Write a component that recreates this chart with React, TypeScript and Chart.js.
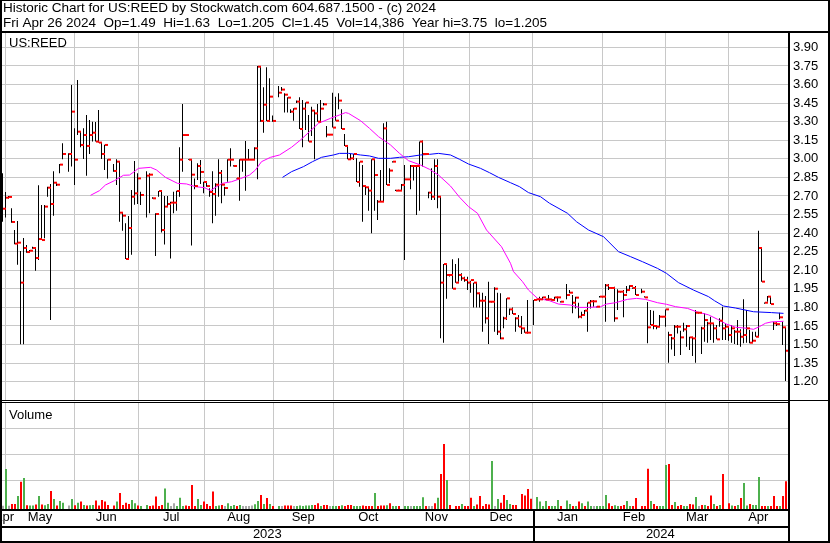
import React, { useEffect, useRef } from 'react';
import { Chart, registerables } from 'chart.js';

Chart.register(...registerables);

// ---------- texts ----------
const HEADER_TITLE = 'Historic Chart for US:REED by Stockwatch.com 604.687.1500 - (c) 2024';
const HEADER_QUOTE = 'Fri Apr 26 2024  Op=1.49  Hi=1.63  Lo=1.205  Cl=1.45  Vol=14,386  Year hi=3.75  lo=1.205';
const SYMBOL = 'US:REED';
const VOLUME_TITLE = 'Volume';

// ---------- time axis (trading-day units) ----------
const DAY_COUNT = 262;
const MONTH_LABELS = ['Apr', 'May', 'Jun', 'Jul', 'Aug', 'Sep', 'Oct', 'Nov', 'Dec', 'Jan', 'Feb', 'Mar', 'Apr'];
const MONTH_STARTS = [1.23, 24.1, 45.4, 67.4, 90.4, 110.4, 133.8, 155.8, 176.9, 200.1, 221.2, 242.2];
const YEAR_LABELS = ['2023', '2024'];
const YEAR_START_MONTH = 8; // index in MONTH_STARTS where 2024 begins

// ---------- value axes ----------
const PRICE_TICKS = [1.2, 1.35, 1.5, 1.65, 1.8, 1.95, 2.1, 2.25, 2.4, 2.55, 2.7, 2.85, 3.0, 3.15, 3.3, 3.45, 3.6, 3.75, 3.9];
const VOLUME_TICKS = [15, 30, 45];

// ---------- daily data ----------
const HIGH = [
  2.883, 2.732, 2.70, 2.600, 2.425, 2.498, 2.255, 2.360, 2.304, 2.264,
  2.290, 2.282, 2.786, 2.627, 2.627, 2.775, 2.797, 2.899, 2.802, 2.958,
  3.125, null, 3.044, 3.596, 3.246, 3.637, 3.219, 3.246, 3.354, 3.314,
  3.300, 3.297, 3.394, 3.136, 3.114, 2.996, null, 2.958, 2.996, 2.977,
  2.565, 2.479, 2.538, 2.748, 2.982, 2.883, 2.735, null, 2.899, 2.883,
  2.689, 2.560, 2.740, 2.748, 2.700, 2.700, 2.654, 2.735, 2.743, 3.093,
  3.443, 3.192, 2.996, 2.996, 2.842, 2.964, 2.991, 2.815, 2.807, 2.762,
  2.899, 2.802, 2.996, 2.910, 2.775, 2.996, 3.085, 2.947, 2.842, 2.996,
  2.996, 3.144, 3.079, 2.996, 3.093, 3.750, 3.750, 3.578, 3.739, 3.650,
  3.350, null, 3.588, 3.580, 3.529, 3.497, 3.400, 3.408, 3.470, 3.497,
  3.475, 3.454, 3.354, 3.421, 3.394, 3.443, 3.475, 3.450, 3.265, 3.200,
  3.534, 3.502, 3.529, 3.400, 3.200, 3.104, 3.039, 3.039, 3.004, 2.977,
  2.950, 2.780, 2.770, 2.996, 2.996, 2.667, 2.910, 3.287, 3.300, 2.923,
  2.980, 2.750, 2.750, 2.797, 2.950, 2.834, 2.950, 2.950, 2.950, 3.139,
  3.147, 3.040, 2.735, 2.923, 2.996, 2.996, 2.694, 2.150, 2.150, 2.070,
  2.188, 2.150, 2.196, 2.075, 2.048, 2.048, 2.016, 2.000, 2.000, 1.919,
  1.919, 1.892, 2.008, 1.850, 1.962, 1.919, 1.914, 1.725, 1.873, 1.792,
  1.800, 1.720, 1.739, 1.730, 1.623, 1.860, null, 1.860, 1.870, 1.887,
  1.887, 1.870, 1.900, 1.865, 1.887, 1.887, 1.850, null, 1.989, 1.940,
  1.900, 1.887, 1.838, 1.765, 1.779, 1.840, 1.860, 1.860, 1.810, 1.892,
  1.890, 1.989, 1.989, 1.960, 1.967, 1.946, 1.930, 1.940, 1.973, 1.978,
  1.960, 1.973, null, 1.951, 1.890, 1.844, 1.779, 1.774, 1.658, 1.739,
  1.730, 1.784, 1.604, 1.563, 1.658, 1.658, 1.612, 1.677, 1.658, 1.563,
  1.563, 1.779, 1.760, 1.644, 1.752, 1.685, 1.725, 1.671, 1.658, 1.712,
  1.806, 1.671, 1.644, 1.658, 1.617, 1.698, 1.623, 1.865, 1.779, 1.617,
  1.604, 1.604, 2.420, 2.280, 1.840, 1.892, 1.887, 1.685, 1.680, 1.757,
  1.685, 1.639,
];

const LOW = [
  2.492, 2.527, 2.680, 2.484, 2.310, 2.145, 1.502, 1.502, 2.242, 2.250,
  2.274, 2.097, 2.183, 2.344, 2.358, 2.694, 1.698, 2.541, 2.780, 2.883,
  2.996, null, 2.896, 2.937, 2.789, 3.192, 3.093, 2.999, 2.864, 3.039,
  3.139, 3.139, 3.131, 2.999, 2.910, 2.840, null, 2.896, 2.789, 2.492,
  2.420, 2.191, 2.183, 2.226, 2.630, 2.635, 2.627, null, 2.527, 2.560,
  2.678, 2.215, 2.694, 2.404, 2.309, 2.614, 2.194, 2.560, 2.581, 2.694,
  2.896, 3.184, 2.991, 2.299, 2.754, 2.829, 2.797, 2.721, 2.775, 2.694,
  2.479, 2.541, 2.694, 2.641, 2.702, 2.815, 2.937, 2.937, 2.835, 2.662,
  2.896, 2.743, 2.993, 2.991, 2.996, 2.834, 3.300, 3.211, 3.306, 3.300,
  3.300, null, 3.497, 3.550, 3.373, 3.373, 3.370, 3.308, 3.450, 3.241,
  3.093, 3.233, 3.139, 3.184, 2.996, 3.300, 3.300, 3.430, 3.174, 3.190,
  3.252, 3.308, 3.400, 3.241, 3.104, 2.996, 2.996, 2.991, 2.813, 2.775,
  2.492, 2.708, 2.581, 2.398, 2.581, 2.506, 2.654, 2.654, 2.789, 2.802,
  2.970, 2.740, 2.740, 2.748, 2.183, 2.829, 2.754, 2.824, 2.546, 2.581,
  2.937, 3.030, 2.681, 2.667, 2.667, 2.600, 1.550, 1.515, 1.870, 2.050,
  1.951, 2.000, 2.008, 2.016, 2.008, 1.940, 1.919, 1.800, 1.800, 1.800,
  1.604, 1.671, 1.504, 1.840, 1.604, 1.577, 1.542, 1.631, 1.698, 1.739,
  1.747, 1.604, 1.644, 1.585, 1.596, 1.590, null, 1.658, 1.860, 1.846,
  1.860, 1.860, 1.865, 1.855, 1.865, 1.846, 1.840, null, 1.865, 1.914,
  1.752, 1.792, 1.712, 1.712, 1.739, 1.604, 1.792, 1.806, 1.800, 1.881,
  1.880, 1.685, 1.940, 1.950, 1.685, 1.779, 1.920, 1.720, 1.914, 1.940,
  1.950, 1.900, null, 1.914, 1.880, 1.510, 1.658, 1.623, 1.623, 1.644,
  1.720, 1.644, 1.353, 1.461, 1.407, 1.590, 1.415, 1.604, 1.483, 1.456,
  1.407, 1.353, 1.750, 1.423, 1.523, 1.515, 1.537, 1.515, 1.542, 1.644,
  1.537, 1.537, 1.531, 1.515, 1.504, 1.496, 1.483, 1.510, 1.515, 1.510,
  1.515, 1.563, 1.563, 2.008, 1.830, 1.846, 1.827, 1.617, 1.650, 1.704,
  1.496, 1.205,
];

const CLOSE = [
  2.597, 2.686, 2.692, 2.490, 2.315, 2.323, 2.000, 2.280, 2.247, 2.258,
  2.280, 2.199, 2.352, 2.344, 2.614, 2.767, 2.635, 2.807, 2.791, 2.953,
  3.039, null, 3.039, 3.381, 2.993, 3.219, 3.112, 3.192, 3.104, 3.192,
  3.211, 3.139, 3.131, 3.039, 3.112, 2.993, null, 2.902, 2.977, 2.565,
  2.541, 2.191, 2.441, 2.694, 2.721, 2.842, 2.708, null, 2.864, 2.872,
  2.681, 2.554, 2.740, 2.425, 2.614, 2.635, 2.646, 2.646, 2.740, 2.993,
  3.192, 3.192, 2.993, 2.872, 2.780, 2.942, 2.894, 2.813, 2.780, 2.732,
  2.716, 2.791, 2.886, 2.791, 2.764, 2.993, 2.993, 2.942, 2.842, 2.993,
  2.993, 2.993, 2.993, 2.993, 3.085, 3.744, 3.306, 3.437, 3.306, 3.502,
  3.306, null, 3.534, 3.559, 3.518, 3.494, 3.381, 3.405, 3.462, 3.241,
  3.405, 3.454, 3.139, 3.389, 3.367, 3.300, 3.405, 3.440, 3.195, 3.195,
  3.252, 3.308, 3.470, 3.241, 3.104, 2.996, 3.004, 3.039, 2.813, 2.977,
  2.780, 2.770, 2.743, 2.996, 2.869, 2.654, 2.654, 3.246, 2.789, 2.905,
  2.977, 2.743, 2.743, 2.789, 2.834, 2.834, 2.942, 2.942, 2.942, 3.139,
  3.039, 3.039, 2.727, 2.694, 2.942, 2.694, 2.000, 2.150, 2.062, 2.062,
  1.951, 2.000, 2.062, 2.035, 2.021, 2.000, 2.021, 2.000, 1.914, 1.854,
  1.854, 1.712, 1.846, 1.846, 1.951, 1.604, 1.550, 1.712, 1.873, 1.784,
  1.747, 1.712, 1.644, 1.631, 1.596, 1.596, null, 1.860, 1.865, 1.865,
  1.881, 1.865, 1.865, 1.860, 1.881, 1.881, 1.846, null, 1.900, 1.919,
  1.838, 1.879, 1.725, 1.739, 1.774, 1.838, 1.849, 1.849, 1.806, 1.887,
  1.887, 1.978, 1.957, 1.957, 1.712, 1.927, 1.927, 1.900, 1.940, 1.973,
  1.957, 1.900, null, 1.927, 1.881, 1.639, 1.658, 1.650, 1.644, 1.725,
  1.725, 1.784, 1.577, 1.550, 1.644, 1.644, 1.558, 1.623, 1.650, 1.558,
  1.550, 1.757, 1.757, 1.631, 1.698, 1.671, 1.671, 1.631, 1.542, 1.693,
  1.631, 1.644, 1.577, 1.631, 1.604, 1.604, 1.563, 1.577, 1.631, 1.515,
  1.531, 1.563, 2.280, 2.008, 1.838, 1.887, 1.827, 1.671, 1.665, 1.720,
  1.639, 1.450,
];

// volume in thousands of shares
const VOLUME_K = [
  0.3, 21.5, 0.3, 1.3, 1.3, 6.0, 14.2, 16.3, 0.6, 0.4,
  0.4, 1.0, 6.0, 1.0, 0.6, 1.3, 8.8, 4.2, 0.4, 3.0,
  2.1, null, 0.5, 4.2, 0.6, 2.1, 2.7, 0.8, 0.4, 0.6,
  0.8, 3.3, 0.4, 3.7, 2.7, 0.8, null, 0.4, 2.7, 7.7,
  0.8, 2.1, 1.3, 3.7, 1.7, 0.4, 0.2, null, 0.8, 0.2,
  0.4, 5.6, 0.2, 0.8, 10.2, 2.1, 0.2, 1.7, 0.2, 5.0,
  0.2, 0.4, 0.2, 12.3, 0.2, 4.2, 0.8, 2.7, 1.3, 0.2,
  8.5, 0.2, 0.4, 0.8, 0.2, 1.7, 0.2, 0.8, 0.2, 0.8,
  0.2, 0.2, 0.2, 0.4, 1.2, 3.0, 6.5, 1.3, 4.8, 1.3,
  0.2, null, 0.2, 0.1, 0.4, 0.4, 0.4, 0.1, 0.1, 0.4,
  0.2, 0.4, 0.4, 0.8, 0.8, 1.7, 0.1, 0.8, 0.8, 0.1,
  0.2, 0.2, 0.2, 0.6, 0.2, 0.8, 0.8, 0.2, 0.2, 0.2,
  0.4, 0.2, 0.1, 0.1, 7.7, 0.2, 0.4, 0.4, 0.6, 1.7,
  0.1, 0.1, 0.2, null, 0.1, 0.2, 0.1, 0.2, 0.2, 0.2,
  5.2, 0.2, 0.1, 0.1, 1.7, 5.0, 18.7, 36.0, 15.2, 0.8,
  null, 0.2, 0.2, 1.3, 0.1, 0.1, 5.0, 0.2, 1.0, 6.0,
  0.2, 1.3, 1.0, 26.2, 0.1, 4.2, 2.1, 6.5, 3.7, 1.3,
  0.8, 0.8, null, 7.1, 6.2, 10.0, 4.4, null, 5.4, 2.7,
  0.2, 3.0, 0.1, 0.1, 0.1, 3.7, 0.2, null, 3.3, 1.3,
  0.1, 0.1, 2.7, 1.7, 0.1, 2.7, 0.2, 0.2, 0.1, 0.1,
  0.1, 6.5, 1.7, 0.1, 0.6, 0.1, 0.2, 0.8, 3.0, 0.1,
  0.2, 4.8, null, 0.1, 0.1, 21.7, 3.0, 1.3, 0.1, 0.2,
  0.1, 23.8, 24.4, 0.8, 2.5, 0.2, 0.8, 0.1, 0.1, 1.3,
  1.0, 5.4, 0.1, 0.8, 0.8, 0.1, 6.3, 1.3, 0.2, 0.8,
  18.7, null, 1.7, 0.4, 0.2, 0.8, 4.8, 13.5, 0.4, 1.3,
  0.8, 0.8, 16.9, 0.2, 0.2, 0.1, 0.1, 6.0, 0.1, 0.1,
  6.0, 14.4,
];

// u = close up, d = close down, n = unchanged, - = no trading
const VOLUME_DIR = [
  'nunddududu', 'ududuududu', 'u-nudududu', 'uddddd-dud', 'ddduudu-ud',
  'dddduunnuu', 'udddduuddd', 'duudnuuudu', 'nnnnuududu', 'd-undddnuu',
  'uuuudduddn', 'uududdduuu', 'ddddudddud', 'uud-uunuuu', 'udnnduddud',
  '-ddudddudd', 'dddunudduu', 'dd-dddd-uu', 'uuduuud-uu', 'dududuunuu',
  'uudduudduu', 'dd-ddduddu', 'uuddudduud', 'dunduddudu', 'd-dududuud',
  'uuuddudddu', 'dd',
].join('');

// moving averages (day index, value)
const MA_SHORT_DAY = [29, 32, 34, 37, 40, 42, 44, 45, 49, 51, 54, 58, 61, 64, 67, 69, 71, 73, 76, 79, 82, 84, 86, 89, 92, 96, 99, 102, 105, 109, 112, 114, 115, 119, 122, 125, 129, 132, 135, 139, 142, 145, 149, 152, 155, 158, 161, 166, 169, 170, 173, 175, 178, 182, 185, 189, 192, 195, 199, 201, 204, 208, 211, 214, 218, 221, 224, 228, 231, 235, 238, 241, 244, 248, 250, 252, 254, 256, 260];
const MA_SHORT = [2.705, 2.743, 2.789, 2.824, 2.867, 2.869, 2.904, 2.923, 2.931, 2.910, 2.850, 2.802, 2.797, 2.775, 2.767, 2.743, 2.775, 2.802, 2.815, 2.840, 2.869, 2.910, 2.977, 3.012, 3.031, 3.093, 3.152, 3.219, 3.287, 3.327, 3.354, 3.373, 3.367, 3.308, 3.246, 3.179, 3.112, 3.044, 2.985, 2.950, 2.915, 2.869, 2.780, 2.690, 2.614, 2.560, 2.425, 2.290, 2.156, 2.089, 2.008, 1.940, 1.873, 1.854, 1.827, 1.819, 1.800, 1.800, 1.806, 1.827, 1.838, 1.865, 1.873, 1.865, 1.838, 1.825, 1.806, 1.792, 1.765, 1.740, 1.704, 1.665, 1.640, 1.631, 1.623, 1.645, 1.672, 1.683, 1.688];
const MA_LONG_DAY = [93, 96, 100, 103, 106, 110, 112, 115, 119, 122, 125, 129, 132, 135, 139, 142, 145, 149, 152, 155, 159, 162, 165, 169, 172, 175, 179, 182, 188, 191, 195, 200, 205, 209, 213, 218, 221, 225, 230, 235, 237, 240, 244, 250, 256, 260];
const MA_LONG = [2.850, 2.896, 2.937, 2.977, 3.012, 3.031, 3.044, 3.044, 3.031, 3.023, 3.004, 3.004, 3.012, 3.017, 3.031, 3.036, 3.044, 3.031, 2.996, 2.958, 2.923, 2.888, 2.850, 2.807, 2.775, 2.727, 2.694, 2.641, 2.560, 2.492, 2.425, 2.371, 2.250, 2.210, 2.169, 2.115, 2.075, 2.000, 1.940, 1.887, 1.854, 1.811, 1.795, 1.765, 1.758, 1.752];

// ---------- styling / layout ----------
const W = 830;
const H = 543;
const FONT = 'Liberation Sans';
const GRID = '#C8C8C8';
const UP = '#4DB04D';
const DOWN = '#FF0000';
const FLAT = '#A8A8A8';
const PRICE_MIN = 0.172;
const PRICE_MAX = 4.016;
const VOL_MIN = -1.56;
const VOL_MAX = 273.1;
const TICK_HALF = 0.008; // half height of the close tick, in price units (about 1px)

const segEdges = [0, ...MONTH_STARTS, DAY_COUNT];
const MONTH_CENTERS = MONTH_LABELS.map((_, k) => (segEdges[k] + segEdges[k + 1]) / 2);
const yearEdges = [0, MONTH_STARTS[YEAR_START_MONTH], DAY_COUNT];
const YEAR_CENTERS = YEAR_LABELS.map((_, k) => (yearEdges[k] + yearEdges[k + 1]) / 2);

const fixX = (h: number) => (s: any) => {
  s.height = h;
  s.paddingLeft = 0;
  s.paddingRight = 0;
};
const fixY = (w: number) => (s: any) => {
  s.width = w;
  s.paddingTop = 0;
  s.paddingBottom = 0;
};

const decor = {
  id: 'decor',
  afterDraw(chart: any) {
    const { ctx } = chart;
    const xs = chart.scales.x;
    ctx.save();
    // separator between price and volume panels
    ctx.fillStyle = '#fff';
    ctx.fillRect(2, 400, 786, 3);
    ctx.fillStyle = '#000';
    ctx.fillRect(0, 0, W, 1);
    ctx.fillRect(0, 31, W, 2);
    ctx.fillRect(0, 0, 2, H);
    ctx.fillRect(788, 31, 2, H - 31);
    ctx.fillRect(W - 2, 0, 2, H);
    ctx.fillRect(0, 400, W, 1);
    ctx.fillRect(0, 402, 790, 1);
    ctx.fillRect(0, 509, 790, 2);
    ctx.fillRect(0, 526, 790, 2);
    ctx.fillRect(0, H - 2, W, 2);
    const jan = Math.round(xs.getPixelForValue(MONTH_STARTS[YEAR_START_MONTH]));
    ctx.fillRect(jan, 511, 2, 30);
    // texts
    ctx.textAlign = 'left';
    ctx.textBaseline = 'alphabetic';
    ctx.font = `13.5px "${FONT}"`;
    ctx.fillText(HEADER_TITLE, 3, 12);
    ctx.fillText(HEADER_QUOTE, 3, 26.5);
    ctx.font = `13px "${FONT}"`;
    ctx.fillText(SYMBOL, 9, 46.5);
    ctx.fillText(VOLUME_TITLE, 9, 418.5);
    ctx.restore();
  },
};

function buildConfig(): any {
  const rangeData: any[] = [];
  const closeData: any[] = [];
  const volData: any[] = [];
  for (let i = 0; i < DAY_COUNT; i++) {
    if (HIGH[i] != null && LOW[i] != null) rangeData.push({ x: i + 1 / 6, y: [LOW[i], HIGH[i]] });
    if (CLOSE[i] != null) closeData.push({ x: i + 5 / 6, y: [CLOSE[i] - TICK_HALF, CLOSE[i] + TICK_HALF] });
    if (VOLUME_K[i] != null) volData.push({ x: i + 1 / 3, y: VOLUME_K[i], dir: VOLUME_DIR[i] });
  }
  const maShort = MA_SHORT_DAY.map((d, k) => ({ x: d + 0.5, y: MA_SHORT[k] }));
  const maLong = MA_LONG_DAY.map((d, k) => ({ x: d + 0.5, y: MA_LONG[k] }));

  const xBase = {
    type: 'linear',
    min: 0,
    max: DAY_COUNT,
    position: 'bottom',
    offset: false,
    border: { display: false },
  };

  return {
    type: 'bar',
    data: {
      datasets: [
        {
          type: 'bar',
          data: closeData,
          yAxisID: 'y',
          backgroundColor: '#FF0000',
          barThickness: 3,
          inflateAmount: 0,
          borderWidth: 0,
          grouped: false,
        },
        {
          type: 'line',
          data: maShort,
          yAxisID: 'y',
          borderColor: '#FF00FF',
          borderWidth: 1,
          pointRadius: 0,
          tension: 0,
        },
        {
          type: 'line',
          data: maLong,
          yAxisID: 'y',
          borderColor: '#0000FF',
          borderWidth: 1,
          pointRadius: 0,
          tension: 0,
        },
        {
          type: 'bar',
          data: rangeData,
          yAxisID: 'y',
          backgroundColor: '#000000',
          barThickness: 1,
          inflateAmount: 0,
          borderWidth: 0,
          grouped: false,
        },
        {
          type: 'bar',
          data: volData,
          yAxisID: 'yv',
          base: VOL_MIN,
          barThickness: 2,
          inflateAmount: 0,
          borderWidth: 0,
          grouped: false,
          backgroundColor: (c: any) => {
            const d = c.raw && c.raw.dir;
            return d === 'u' ? UP : d === 'd' ? DOWN : FLAT;
          },
        },
      ],
    },
    options: {
      responsive: false,
      animation: false,
      devicePixelRatio: 1,
      events: [],
      layout: { autoPadding: false, padding: { left: 2, top: 33, right: 0, bottom: 0 } },
      plugins: { legend: { display: false }, tooltip: { enabled: false }, title: { display: false } },
      scales: {
        x: {
          ...xBase,
          weight: 0,
          grid: { color: GRID, lineWidth: 1, drawTicks: false, offset: false },
          ticks: { display: false },
          afterBuildTicks: (s: any) => {
            s.ticks = MONTH_STARTS.map((v) => ({ value: v }));
          },
          afterFit: fixX(0),
        },
        xm: {
          ...xBase,
          weight: 1,
          grid: { display: false, drawTicks: false, offset: false },
          ticks: {
            display: true,
            autoSkip: false,
            maxRotation: 0,
            minRotation: 0,
            padding: 1,
            color: '#000',
            font: { family: FONT, size: 13 },
            callback: (_v: any, idx: number) => MONTH_LABELS[idx],
          },
          afterBuildTicks: (s: any) => {
            s.ticks = MONTH_CENTERS.map((v) => ({ value: v }));
          },
          afterFit: fixX(17),
        },
        xy: {
          ...xBase,
          weight: 2,
          grid: { display: false, drawTicks: false, offset: false },
          ticks: {
            display: true,
            autoSkip: false,
            maxRotation: 0,
            minRotation: 0,
            padding: 1,
            color: '#000',
            font: { family: FONT, size: 13 },
            callback: (_v: any, idx: number) => YEAR_LABELS[idx],
          },
          afterBuildTicks: (s: any) => {
            s.ticks = YEAR_CENTERS.map((v) => ({ value: v }));
          },
          afterFit: fixX(17),
        },
        yv: {
          type: 'linear',
          position: 'right',
          weight: 0,
          min: VOL_MIN,
          max: VOL_MAX,
          border: { display: false },
          grid: { color: GRID, lineWidth: 1, drawTicks: false },
          ticks: {
            padding: 5,
            color: '#000',
            font: { family: FONT, size: 13 },
            callback: (v: number) => `${v} k`,
          },
          afterBuildTicks: (s: any) => {
            s.ticks = VOLUME_TICKS.map((v) => ({ value: v }));
          },
          afterFit: fixY(0),
        },
        y: {
          type: 'linear',
          position: 'right',
          weight: 1,
          min: PRICE_MIN,
          max: PRICE_MAX,
          border: { display: false },
          grid: { color: GRID, lineWidth: 1, drawTicks: false },
          ticks: {
            padding: 5,
            color: '#000',
            font: { family: FONT, size: 13 },
            callback: (v: number) => v.toFixed(2),
          },
          afterBuildTicks: (s: any) => {
            s.ticks = PRICE_TICKS.map((v) => ({ value: v }));
          },
          afterFit: fixY(42),
        },
      },
    },
    plugins: [decor],
  };
}

export default function App() {
  const ref = useRef<HTMLCanvasElement>(null);
  useEffect(() => {
    if (!ref.current) return;
    const chart = new Chart(ref.current, buildConfig());
    return () => chart.destroy();
  }, []);
  return (
    <div style={{ position: 'fixed', left: 0, top: 0, width: W, height: H, background: '#fff' }}>
      <canvas ref={ref} width={W} height={H} style={{ display: 'block', width: W, height: H }} />
    </div>
  );
}
